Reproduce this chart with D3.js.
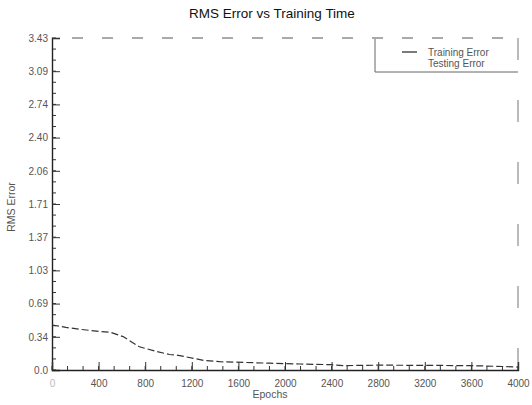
<!DOCTYPE html>
<html>
<head>
<meta charset="utf-8">
<script src="https://cdn.jsdelivr.net/npm/d3@7"></script>
<style>
  html, body { margin: 0; padding: 0; background: #fff; }
  svg { display: block; font-family: "Liberation Sans", Arial, sans-serif; }
</style>
</head>
<body>
<svg id="chart" width="532" height="405"></svg>
<script>
// Training run: RMS error per epoch
const epochs        = [0, 120, 240, 400, 500, 610, 750, 900, 1010, 1070, 1300, 1440, 1870, 2130, 2390, 2500, 2800, 3200, 3600, 3900, 4000];
const trainingError = [0.465, 0.44, 0.42, 0.40, 0.39, 0.345, 0.24, 0.19, 0.16, 0.155, 0.10, 0.086, 0.07, 0.062, 0.055, 0.045, 0.05, 0.048, 0.045, 0.035, 0.03];

const yTickValues = [0, 0.343, 0.686, 1.029, 1.372, 1.715, 2.058, 2.401, 2.744, 3.087, 3.43];
const yTickLabels = ["0.0", "0.34", "0.69", "1.03", "1.37", "1.71", "2.06", "2.40", "2.74", "3.09", "3.43"];
const xTickValues = [0, 400, 800, 1200, 1600, 2000, 2400, 2800, 3200, 3600, 4000];
const legendLabels = ["Training Error", "Testing Error"];

const svg = d3.select("#chart");
const margin = { left: 52, right: 14, top: 38, bottom: 35 };
const W = 532, H = 405;
const x0 = margin.left, x1 = W - margin.right, y0 = H - margin.bottom, y1 = margin.top;

const x = d3.scaleLinear().domain([0, 4000]).range([x0, x1]);
const y = d3.scaleLinear().domain([0, 3.43]).range([y0, y1]);

// Title
svg.append("text")
  .attr("x", 272).attr("y", 18)
  .attr("text-anchor", "middle")
  .attr("font-size", 13.5)
  .attr("fill", "#111")
  .text("RMS Error vs Training Time");

// Frame: top and right edges are faint and broken
svg.append("line")
  .attr("x1", x0 + 20).attr("x2", x1).attr("y1", y1).attr("y2", y1)
  .attr("stroke", "#555").attr("stroke-width", 1)
  .attr("stroke-dasharray", "11,19");
svg.append("line")
  .attr("x1", x1).attr("x2", x1).attr("y1", y1).attr("y2", y0)
  .attr("stroke", "#777").attr("stroke-width", 1)
  .attr("stroke-dasharray", "22,40");

// Minor ticks (three per interval)
const yMinor = d3.range(0, 3.43 + 1e-6, 3.43 / 30);
svg.append("g").selectAll("line").data(yMinor).join("line")
  .attr("x1", x0).attr("x2", x0 + 4)
  .attr("y1", d => y(d)).attr("y2", d => y(d))
  .attr("stroke", "#333").attr("stroke-width", 1);
const xMinor = d3.range(0, 4000 + 1e-6, 400 / 3);
svg.append("g").selectAll("line").data(xMinor).join("line")
  .attr("x1", d => x(d)).attr("x2", d => x(d))
  .attr("y1", y0).attr("y2", y0 - 4)
  .attr("stroke", "#333").attr("stroke-width", 1);

// Y axis
const yAxis = d3.axisRight(y)
  .tickValues(yTickValues)
  .tickFormat((d, i) => yTickLabels[i])
  .tickSize(8);
const gy = svg.append("g").attr("transform", `translate(${x0},0)`).call(yAxis);
gy.select(".domain").attr("stroke", "#222").attr("stroke-width", 1.4);
gy.selectAll(".tick line").attr("stroke", "#333");
gy.selectAll(".tick text")
  .attr("x", -4).attr("text-anchor", "end")
  .attr("font-size", 10).attr("fill", "#555")
  .attr("font-family", "Liberation Sans, Arial, sans-serif");

// X axis
const xAxis = d3.axisTop(x)
  .tickValues(xTickValues)
  .tickFormat(d => d === 0 ? "0" : d3.format("d")(d))
  .tickSize(8);
const gx = svg.append("g").attr("transform", `translate(0,${y0})`).call(xAxis);
gx.select(".domain").attr("stroke", "#222").attr("stroke-width", 1.4);
gx.selectAll(".tick line").attr("stroke", "#333");
gx.selectAll(".tick text")
  .attr("y", 17).attr("dy", 0)
  .attr("font-size", 10).attr("fill", "#555")
  .attr("font-family", "Liberation Sans, Arial, sans-serif");
gx.selectAll(".tick text").filter(d => d === 0).attr("fill", "#bbb");

// Axis titles
svg.append("text")
  .attr("x", 270).attr("y", 398)
  .attr("text-anchor", "middle")
  .attr("font-size", 10.5).attr("fill", "#555")
  .text("Epochs");
svg.append("text")
  .attr("transform", "translate(15,207) rotate(-90)")
  .attr("text-anchor", "middle")
  .attr("font-size", 10.5).attr("fill", "#555")
  .text("RMS Error");

// Training error curve
const line = d3.line().x((d, i) => x(epochs[i])).y(d => y(d));
svg.append("path")
  .datum(trainingError)
  .attr("d", line)
  .attr("fill", "none")
  .attr("stroke", "#333")
  .attr("stroke-width", 1.2)
  .attr("stroke-dasharray", "7,3");

// Legend
const lg = svg.append("g");
lg.append("line").attr("x1", 375).attr("x2", 375).attr("y1", 39).attr("y2", 72)
  .attr("stroke", "#666");
lg.append("line").attr("x1", 375).attr("x2", x1).attr("y1", 72).attr("y2", 72)
  .attr("stroke", "#666");
lg.append("line").attr("x1", 402).attr("x2", 417).attr("y1", 52).attr("y2", 52)
  .attr("stroke", "#222").attr("stroke-width", 1.2);
lg.selectAll("text").data(legendLabels).join("text")
  .attr("x", 428).attr("y", (d, i) => 56 + i * 10.5)
  .attr("font-size", 10).attr("fill", "#555")
  .text(d => d);
</script>
</body>
</html>
